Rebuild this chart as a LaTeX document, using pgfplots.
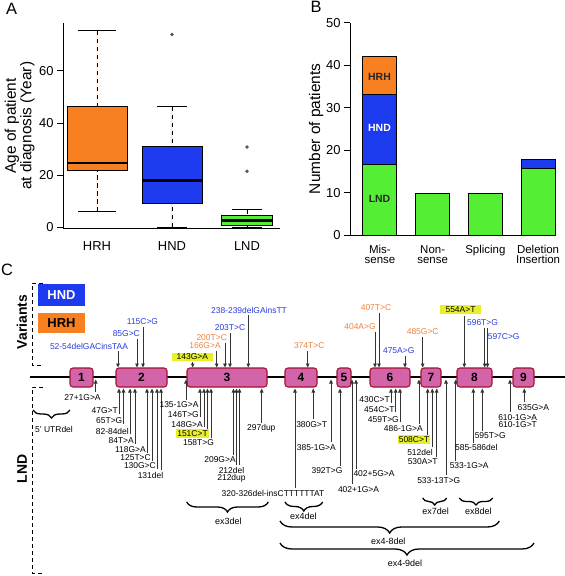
\documentclass[border=0pt]{standalone}
\usepackage{fontspec}
\setmainfont{Liberation Sans}
\usepackage{pgfplots}
\pgfplotsset{compat=1.18}
\usepgfplotslibrary{statistics}
\usetikzlibrary{arrows.meta,decorations.pathreplacing}
\definecolor{hrh}{RGB}{248,128,32}
\definecolor{hnd}{RGB}{28,58,238}
\definecolor{lnd}{RGB}{84,238,52}
\definecolor{exfill}{RGB}{212,100,170}
\definecolor{exdraw}{RGB}{160,20,50}
\definecolor{hl}{RGB}{232,240,40}
\definecolor{tblue}{RGB}{40,60,220}
\definecolor{torange}{RGB}{238,130,60}
\newcommand{\fs}[1]{\fontsize{#1}{#1}\selectfont}
\pgfplotsset{
  boxplot/draw/lower whisker/.code={%
    \draw[dash pattern=on 4.5bp off 3.5bp] (boxplot cs:\pgfplotsboxplotvalue{lower whisker}) -- (boxplot cs:\pgfplotsboxplotvalue{lower quartile});
    \draw[solid] (boxplot whisker cs:\pgfplotsboxplotvalue{lower whisker},0) -- (boxplot whisker cs:\pgfplotsboxplotvalue{lower whisker},1);
  },
  boxplot/draw/upper whisker/.code={%
    \draw[dash pattern=on 4.5bp off 3.5bp] (boxplot cs:\pgfplotsboxplotvalue{upper whisker}) -- (boxplot cs:\pgfplotsboxplotvalue{upper quartile});
    \draw[solid] (boxplot whisker cs:\pgfplotsboxplotvalue{upper whisker},0) -- (boxplot whisker cs:\pgfplotsboxplotvalue{upper whisker},1);
  },
}
\begin{document}
\begin{tikzpicture}
\useasboundingbox (0,0) rectangle (565bp,-576bp);
% ---------------- Panel A ----------------
\begin{axis}[
  at={(63bp,-228.6bp)}, anchor=south west, scale only axis,
  width=217bp, height=205.6bp,
  xmin=0.547, xmax=3.44, ymin=-0.5, ymax=78.4,
  axis x line*=bottom, axis y line*=left,
  axis line style={line width=0.9bp,-},
  xtick={1,2,3}, xticklabels={HRH,HND,LND},
  xtick style={draw=none},
  xticklabel style={yshift=-3bp},
  ytick={0,20,40,60}, ytick pos=left,
  tick align=outside, major tick length=6bp,
  ytick style={line width=0.9bp, black},
  /pgf/number format/assume math mode=true,
  ticklabel style={font=\fs{13}},
  ylabel={Age of patient\\at diagnosis (Year)},
  ylabel style={font=\fontsize{15.5}{15.5}\selectfont, align=center, at={(axis description cs:-0.2,0.5)}, anchor=center},
  boxplot/draw direction=y,
  boxplot/every median/.style={line width=2.6bp},
  clip=false,
]
\addplot[boxplot prepared={lower whisker=5.9, lower quartile=22.0, median=24.6, upper quartile=46.3, upper whisker=75.5, draw position=1, box extend=0.8, whisker extend=0.5}, fill=hrh, draw=black, line width=0.9bp] coordinates {};
\addplot[boxplot prepared={lower whisker=0, lower quartile=9.2, median=18.0, upper quartile=31.0, upper whisker=46.3, draw position=2, box extend=0.8, whisker extend=0.4}, fill=hnd, draw=black, line width=0.9bp, mark=*, mark size=1.3bp, mark options={fill=black!65, draw=black!65}] table[row sep=\\, y index=0] {data\\74.0\\};
\addplot[boxplot prepared={lower whisker=0, lower quartile=0.6, median=2.6, upper quartile=4.4, upper whisker=6.7, draw position=3, box extend=0.67, whisker extend=0.4}, fill=lnd, draw=black, line width=0.9bp, mark=*, mark size=1.3bp, mark options={fill=black!65, draw=black!65}] table[row sep=\\, y index=0] {data\\21.5\\30.8\\};
\end{axis}
% ---------------- Panel B ----------------
\begin{axis}[
  at={(350bp,-235bp)}, anchor=south west, scale only axis,
  width=206bp, height=212.3bp,
  xmin=0.432, xmax=4.34, ymin=0, ymax=50,
  ybar stacked, bar width=34bp,
  axis x line*=bottom, axis y line*=left,
  axis line style={line width=0.9bp,-},
  xtick={1,2,3,4},
  xticklabels={{Mis-\\sense},{Non-\\sense},{Splicing},{Deletion\\Insertion}},
  xticklabel style={align=center, font=\fontsize{11.5}{10.2}\selectfont, yshift=-1bp},
  xtick style={draw=none},
  ytick={0,10,20,30,40,50}, ytick pos=left,
  tick align=outside, major tick length=6bp,
  ytick style={line width=0.9bp, black},
  /pgf/number format/assume math mode=true,
  yticklabel style={font=\fs{13}},
  ylabel={Number of patients},
  ylabel style={font=\fs{15.5}, at={(axis description cs:-0.165,0.5)}, anchor=center},
  clip=false,
]
\addplot[fill=lnd, draw=black, line width=0.9bp] coordinates {(1,16.5) (2,9.8) (3,9.8) (4,15.6)};
\addplot[fill=hnd, draw=black, line width=0.9bp] coordinates {(1,16.7) (2,0) (3,0) (4,2.1)};
\addplot[fill=hrh, draw=black, line width=0.9bp] coordinates {(1,8.9) (2,0) (3,0) (4,0)};
\end{axis}
% ---------------- Panel letters & C ----------------
\begin{scope}[x=1bp, y=-1bp,
  lab/.style={font=\fs{8.5}, inner sep=0pt},
  ar/.style={-{Triangle[length=4bp,width=3.5bp]}, line width=0.8bp, black!80},
  hlb/.style={font=\fs{8.5}, fill=hl, inner xsep=1bp, inner ysep=1.5bp},
  br/.style={decorate, line width=1.3bp},
  ]
\node[font=\bfseries\fs{10.5}, text=black!85] at (379.5,76.7) {HRH};
\node[font=\bfseries\fs{10.5}, text=white] at (379.5,128) {HND};
\node[font=\bfseries\fs{10.5}, text=black!85] at (379.5,199) {LND};
\node[font=\fs{16.5}] at (11.7,9.2) {A};
\node[font=\fs{16.5}] at (316,7) {B};
\node[font=\fs{16.5}] at (7,270) {C};
% gene line and exons
\draw[line width=1.2bp] (30,377) -- (565,377);
\foreach \a/\b/\n in {70/93/1, 116/167/2, 187/267/3, 285/317/4, 337/351/5, 370/410/6, 421/441/7, 457/492/8, 513/534/9}{
  \draw[fill=exfill, draw=exdraw, line width=1.1bp, rounded corners=3bp] (\a,368) rectangle (\b,387);
  \node[font=\bfseries\fs{12}] at ({(\a+\b)/2},377.5) {\n};
}
% side brackets and legend
\draw[dash pattern=on 4bp off 3bp, line width=1bp] (43,283) -- (32,283) -- (32,365) -- (43,365);
\draw[dash pattern=on 4bp off 3bp, line width=1bp] (43,387) -- (32,387) -- (32,573) -- (43,573);
\node[rotate=90, font=\bfseries\fs{14}] at (22,322) {Variants};
\node[rotate=90, font=\bfseries\fs{14}] at (22,469) {LND};
\node[fill=hnd, minimum width=47bp, minimum height=22bp, inner sep=0pt, text=white, font=\bfseries\fs{13}] at (61.5,295) {HND};
\node[fill=hrh, minimum width=47bp, minimum height=20bp, inner sep=0pt, text=black, font=\bfseries\fs{13}] at (61.5,323) {HRH};
% ---- variants above (HND blue, HRH orange)
\node[lab, text=tblue] at (89,346) {52-54delGACinsTAA};
\draw[ar] (118,351) -- (118,367.5);
\node[lab, text=tblue] at (126.3,334) {85G>C};
\draw[ar] (137,339) -- (137,367.5);
\node[lab, text=tblue] at (142.5,322) {115C>G};
\draw[ar] (143,327) -- (143,367.5);
\node[hlb, inner xsep=5bp] at (192.3,357) {143G>A};
\draw[ar] (192.7,362) -- (192.7,367.5);
\node[lab, text=torange] at (205,346) {166G>A};
\draw[ar] (216.7,351) -- (216.7,367.5);
\node[lab, text=torange] at (211.7,338) {200T>C};
\draw[ar] (225,343) -- (225,367.5);
\node[lab, text=tblue] at (230,328) {203T>C};
\draw[ar] (230,333) -- (230,367.5);
\node[lab, text=tblue] at (249,310) {238-239delGAinsTT};
\draw[ar] (248.3,315) -- (248.3,367.5);
\node[lab, text=torange] at (309.2,346) {374T>C};
\draw[ar] (307.7,351) -- (307.7,367.5);
\node[lab, text=torange] at (360,326.7) {404A>G};
\draw[ar] (375,331.7) -- (375,367.5);
\node[lab, text=torange] at (376,307.7) {407T>C};
\draw[ar] (379,312.7) -- (379,367.5);
\node[lab, text=tblue] at (398.7,351) {475A>G};
\draw[ar] (405,356) -- (405,367.5);
\node[lab, text=torange] at (422.7,332) {485G>C};
\draw[ar] (422.7,337) -- (422.7,367.5);
\node[hlb, inner xsep=6bp] at (460.5,309.5) {554A>T};
\draw[ar] (464.3,315.5) -- (464.3,367.5);
\node[lab, text=tblue] at (482.5,322.7) {596T>G};
\draw[ar] (484.7,327.7) -- (484.7,367.5);
\node[lab, text=tblue] at (503.7,336.7) {597C>G};
\draw[ar] (487.5,328) -- (487.5,367.5);
% ---- LND variants below
\draw[ar] (95.7,392.3) -- (95.7,379.5); \node[lab] at (82.5,397.3) {27+1G>A};
\draw[ar] (119,414) -- (119,388.5); \node[lab,anchor=east] at (118,411) {47G>T};
\draw[ar] (123.5,424) -- (123.5,388.5); \node[lab,anchor=east] at (122.5,421) {65T>G};
\draw[ar] (130,434) -- (130,388.5); \node[lab,anchor=east] at (129,431) {82-84del};
\draw[ar] (135,444) -- (135,388.5); \node[lab,anchor=east] at (134,441) {84T>A};
\draw[ar] (147,452.5) -- (147,388.5); \node[lab,anchor=east] at (146,449.5) {118G>A};
\draw[ar] (152,460.5) -- (152,388.5); \node[lab,anchor=east] at (151,457.5) {125T>C};
\draw[ar] (157,469) -- (157,388.5); \node[lab,anchor=east] at (156,466) {130G>C};
\draw[ar] (161,470.3) -- (161,388.5); \node[lab] at (150.5,475.3) {131del};
\draw[ar] (186,399.5) -- (186,379.5); \node[lab] at (179,404.5) {135-1G>A};
\draw[ar] (200,417) -- (200,388.5); \node[lab,anchor=east] at (199,414.3) {146T>G};
\draw[ar] (204,427) -- (204,388.5); \node[lab,anchor=east] at (203,424.3) {148G>A};
\draw[ar] (207.5,429.5) -- (207.5,388.5); \node[hlb] at (192.5,433.8) {151C>T};
\draw[ar] (211,437.7) -- (211,388.5); \node[lab] at (198.5,442.7) {158T>G};
\draw[ar] (233.5,455) -- (233.5,388.5); \node[lab] at (220,460) {209G>A};
\draw[ar] (236.5,465) -- (236.5,388.5);
\draw[ar] (239.5,465) -- (239.5,388.5);
\node[lab] at (231.5,470) {212del}; \node[lab] at (231.5,478) {212dup};
\draw[ar] (261.7,423.3) -- (261.7,388.5); \node[lab] at (261.3,428.3) {297dup};
\draw[ar] (295,488.3) -- (295,388.5); \node[lab] at (273,493.3) {320-326del-insCTTTTTTAT};
\draw[ar] (313.3,419.3) -- (313.3,388.5); \node[lab] at (311.7,424.3) {380G>T};
\draw[ar] (331,442.3) -- (331,379.5); \node[lab] at (316.3,447.3) {385-1G>A};
\draw[ar] (340,465.7) -- (340,388.5); \node[lab] at (327,470.7) {392T>G};
\draw[ar] (352,484.3) -- (352,379.5); \node[lab] at (358.5,489.3) {402+1G>A};
\draw[ar] (356,469) -- (356,379.5); \node[lab] at (374,474) {402+5G>A};
\draw[ar] (391,403) -- (391,388.5); \node[lab,anchor=east] at (390,400) {430C>T};
\draw[ar] (395.7,412.3) -- (395.7,388.5); \node[lab,anchor=east] at (394.7,409.3) {454C>T};
\draw[ar] (400,422.3) -- (400,388.5); \node[lab,anchor=east] at (399,419.3) {459T>G};
\draw[ar] (419,424) -- (419,379.5); \node[lab] at (403.3,429) {486-1G>A};
\draw[ar] (427.7,434.5) -- (427.7,388.5); \node[hlb] at (414,439.2) {508C>T};
\draw[ar] (432.3,447.3) -- (432.3,388.5); \node[lab] at (420,452.3) {512del};
\draw[ar] (436.7,456.7) -- (436.7,388.5); \node[lab] at (422.7,461.7) {530A>T};
\draw[ar] (446,475.3) -- (446,379.5); \node[lab] at (438.8,480.3) {533-13T>G};
\draw[ar] (455.7,460.7) -- (455.7,379.5); \node[lab] at (469.2,465.7) {533-1G>A};
\draw[ar] (473.3,442.7) -- (473.3,388.5); \node[lab] at (476.3,447.7) {585-586del};
\draw[ar] (482.3,431) -- (482.3,388.5); \node[lab] at (490.2,436) {595T>G};
\draw[ar] (510,412.3) -- (510,379.5); \node[lab] at (517.7,417.3) {610-1G>A}; \node[lab] at (517.7,425) {610-1G>T};
\draw[ar] (524.3,402.3) -- (524.3,388.5); \node[lab] at (533.3,407.3) {635G>A};
% ---- braces
\draw[br, decoration={brace, mirror, amplitude=8bp}] (33,410) -- (70,410);
\node[lab] at (54,429) {5' UTRdel};
\draw[br, decoration={brace, mirror, amplitude=10bp}] (186.7,502) -- (268.3,502);
\node[lab, font=\fs{9}] at (228.3,521.7) {ex3del};
\draw[br, decoration={brace, mirror, amplitude=9bp}] (285,502) -- (322.7,502);
\node[lab, font=\fs{9}] at (303.3,516.7) {ex4del};
\draw[br, decoration={brace, mirror, amplitude=7bp}] (422.7,498) -- (446.7,498);
\node[lab, font=\fs{9}] at (435.7,511.7) {ex7del};
\draw[br, decoration={brace, mirror, amplitude=7bp}] (459.3,498) -- (492.7,498);
\node[lab, font=\fs{9}] at (478.3,511.7) {ex8del};
\draw[br, decoration={brace, mirror, amplitude=12bp}] (280,521) -- (499.3,521);
\node[lab, font=\fs{9}] at (388.3,541.7) {ex4-8del};
\draw[br, decoration={brace, mirror, amplitude=12bp}] (280,543) -- (534,543);
\node[lab, font=\fs{9}] at (405,563.3) {ex4-9del};
\end{scope}
\end{tikzpicture}
\end{document}
